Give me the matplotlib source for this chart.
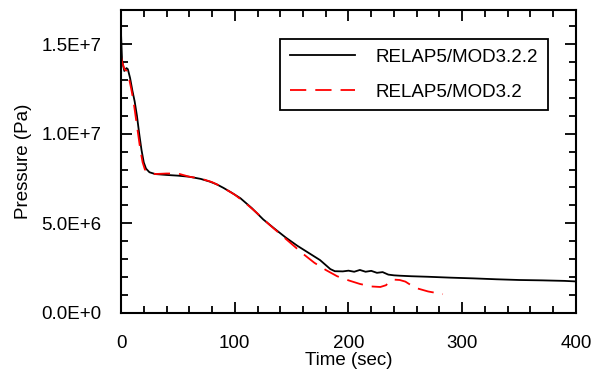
import matplotlib
matplotlib.use("Agg")
import matplotlib.pyplot as plt
from matplotlib.ticker import MultipleLocator, FuncFormatter

plt.rcParams['font.family'] = ['Liberation Sans', 'DejaVu Sans']

# RELAP5/MOD3.2.2 (time s, pressure 1e6 Pa)
t_new = [0, 0.9, 2.9, 4.8, 6, 8, 10, 12, 14, 16, 18, 20, 22, 25, 30, 40, 50, 60,
         70, 78, 84, 90, 97, 105, 115, 125, 135, 145, 155, 165, 175, 184, 188,
         195, 200, 205, 210, 215, 220, 225, 230, 235, 240, 245, 255, 270, 290,
         310, 330, 350, 370, 390, 400]
p_new = [15.6, 14.1, 13.5, 13.66, 13.6, 13.1, 12.4, 11.8, 11.0, 10.0, 9.1, 8.4,
         8.05, 7.85, 7.75, 7.7, 7.66, 7.6, 7.48, 7.33, 7.18, 6.98, 6.72, 6.4,
         5.85, 5.22, 4.7, 4.2, 3.75, 3.35, 2.95, 2.45, 2.33, 2.32, 2.36, 2.3,
         2.4, 2.3, 2.35, 2.24, 2.28, 2.14, 2.1, 2.08, 2.05, 2.02, 1.97, 1.93,
         1.88, 1.84, 1.82, 1.79, 1.76]

# RELAP5/MOD3.2
t_old = [0, 1, 3, 5, 7, 9, 11, 13, 15, 17, 19, 21, 24, 30, 40, 50, 60, 70, 80,
         85, 92, 100, 110, 120, 130, 140, 150, 160, 170, 180, 190, 200, 210,
         220, 228, 233, 236, 240, 245, 250, 255, 260, 270, 283]
p_old = [14.3, 14.0, 13.6, 13.5, 13.1, 12.5, 11.8, 10.9, 10.0, 9.1, 8.4, 8.0,
         7.85, 7.75, 7.78, 7.78, 7.6, 7.5, 7.3, 7.15, 6.9, 6.6, 6.1, 5.55, 4.95,
         4.4, 3.85, 3.3, 2.8, 2.4, 2.05, 1.82, 1.62, 1.48, 1.45, 1.55, 1.75,
         1.86, 1.84, 1.75, 1.55, 1.38, 1.2, 1.05]

fig = plt.figure(figsize=(5.97, 3.76), dpi=100)
ax = fig.add_axes([0.2027, 0.1676, 0.7621, 0.8058])

ax.plot(t_new, [p * 1e6 for p in p_new], color='black', lw=1.3,
        label='RELAP5/MOD3.2.2')
ax.plot(t_old, [p * 1e6 for p in p_old], color='#ff0000', lw=1.3,
        dashes=(9, 5), label='RELAP5/MOD3.2')

ax.set_xlim(0, 400)
ax.set_ylim(0, 1.69e7)
ax.xaxis.set_major_locator(MultipleLocator(100))
ax.xaxis.set_minor_locator(MultipleLocator(20))
ax.yaxis.set_major_locator(MultipleLocator(5e6))
ax.yaxis.set_minor_locator(MultipleLocator(1e6))


def sci(v, pos):
    if v == 0:
        return '0.0E+0'
    e = 0
    m = v
    while abs(m) >= 10:
        m /= 10
        e += 1
    return f'{m:.1f}E+{e}'


ax.yaxis.set_major_formatter(FuncFormatter(sci))

ax.tick_params(which='both', direction='in', top=True, right=True,
               width=1.3, labelsize=13.5)
ax.tick_params(which='major', length=8)
ax.tick_params(which='minor', length=5)
ax.tick_params(axis='x', pad=16)
ax.tick_params(axis='y', pad=14)
for s in ax.spines.values():
    s.set_linewidth(1.5)

ax.set_xlabel('Time (sec)', fontsize=13.5, labelpad=0)
ax.set_ylabel('Pressure (Pa)', fontsize=13.5, labelpad=7)

leg = ax.legend(loc='upper right', bbox_to_anchor=(0.938, 0.904),
                borderaxespad=0, fontsize=13.5, handlelength=3.5,
                handletextpad=1.1, labelspacing=0.95, borderpad=0.5,
                fancybox=False, framealpha=1, edgecolor='black')
leg.get_frame().set_linewidth(1.3)

fig.savefig('out.png', dpi=100)
